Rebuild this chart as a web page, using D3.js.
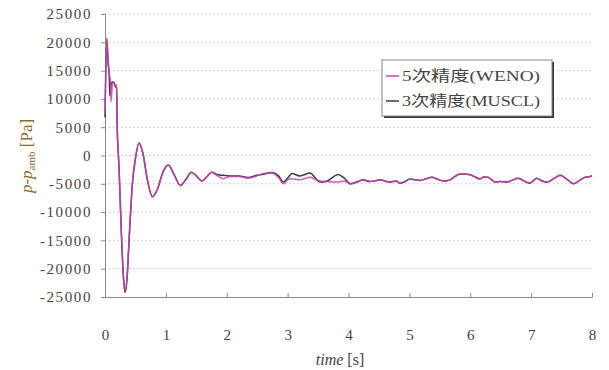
<!DOCTYPE html>
<html><head><meta charset="utf-8">
<script src="https://cdn.jsdelivr.net/npm/d3@7"></script>
<style>body{margin:0;background:#fff}svg{display:block}</style>
</head><body>
<svg id="c" width="609" height="370"></svg>
<script>
const xTicks = [0,1,2,3,4,5,6,7,8];
const yTicks = [-25000,-20000,-15000,-10000,-5000,0,5000,10000,15000,20000,25000];
const seriesNames = ["5次精度(WENO)", "3次精度(MUSCL)"];

const tWeno = [0,0.03,0.05,0.07,0.09,0.1,0.12,0.15,0.17,0.19,0.2,0.23,0.27,0.3,0.33,0.36,0.4,0.45,0.5,0.56,0.62,0.7,0.78,0.86,0.95,1.04,1.14,1.24,1.33,1.42,1.5,1.59,1.67,1.75,1.85,1.94,2.05,2.2,2.35,2.5,2.6,2.74,2.85,2.93,3.0,3.07,3.2,3.37,3.45,3.53,3.65,3.83,3.93,4.03,4.15,4.24,4.35,4.46,4.52,4.6,4.68,4.78,4.85,4.93,5.01,5.1,5.18,5.28,5.37,5.46,5.56,5.67,5.75,5.83,5.92,6.0,6.08,6.16,6.22,6.29,6.35,6.41,6.5,6.6,6.7,6.79,6.9,6.98,7.04,7.09,7.18,7.26,7.37,7.48,7.6,7.7,7.81,7.9,7.97,8.0];
const pWeno = [7500,20800,17000,14500,13000,9500,12500,13000,12000,12500,5000,-2000,-14000,-21000,-24000,-22000,-14000,-5000,-500,2200,500,-4500,-7300,-6000,-3000,-1700,-3500,-5300,-4200,-2950,-3600,-4500,-3800,-2950,-3600,-4100,-3700,-3700,-4000,-3600,-3200,-3100,-3900,-5000,-4300,-4100,-4300,-3850,-4200,-4500,-4600,-4700,-4500,-5000,-4700,-4300,-4600,-4400,-4300,-4500,-4700,-4500,-4900,-4600,-4150,-4300,-4400,-4100,-3850,-4200,-4500,-4300,-3700,-3250,-3300,-3400,-3800,-4150,-3800,-3850,-4300,-4700,-4600,-4700,-4300,-4000,-4600,-4900,-4400,-4000,-4500,-4700,-4100,-3500,-4300,-5000,-4300,-3800,-3700,-3600];

const tMuscl = [0,0.03,0.05,0.07,0.08,0.1,0.12,0.15,0.17,0.19,0.2,0.23,0.27,0.3,0.33,0.36,0.4,0.45,0.5,0.56,0.62,0.7,0.78,0.86,0.95,1.04,1.14,1.24,1.33,1.42,1.5,1.59,1.67,1.75,1.85,1.94,2.05,2.2,2.35,2.5,2.6,2.74,2.85,2.93,3.0,3.07,3.2,3.37,3.45,3.53,3.65,3.83,3.93,4.03,4.15,4.24,4.35,4.46,4.52,4.6,4.68,4.78,4.85,4.93,5.01,5.1,5.18,5.28,5.37,5.46,5.56,5.67,5.75,5.83,5.92,6.0,6.08,6.16,6.22,6.29,6.35,6.41,6.5,6.6,6.7,6.79,6.9,6.98,7.04,7.09,7.18,7.26,7.37,7.48,7.6,7.7,7.81,7.9,7.97,8.0];
const pMuscl = [6700,20500,16500,14000,10500,12500,13000,12800,12200,12000,5500,-2000,-14000,-21000,-24200,-22000,-14000,-5000,-500,2200,500,-4500,-7300,-6000,-3000,-1700,-3500,-5300,-4200,-2950,-3600,-4500,-3800,-2950,-3400,-3500,-3600,-3600,-3900,-3500,-3300,-3000,-3600,-4700,-4000,-3200,-3600,-3100,-3900,-4700,-4500,-3350,-4000,-5000,-4600,-4300,-4600,-4400,-4300,-4500,-4700,-4500,-4900,-4600,-4150,-4300,-4400,-4100,-3850,-4200,-4500,-4300,-3700,-3250,-3300,-3400,-3800,-4150,-3800,-3850,-4300,-4700,-4600,-4700,-4300,-4000,-4600,-4900,-4400,-4000,-4500,-4700,-4100,-3500,-4300,-5000,-4300,-3800,-3700,-3600];

const svg = d3.select("#c");
const x = d3.scaleLinear().domain([0,8]).range([105,592]);
const y = d3.scaleLinear().domain([-25000,25000]).range([297,14]);
const serif = "'Liberation Serif','Times New Roman',serif";

// gridlines
svg.append("g").selectAll("line").data(yTicks.filter(v=>v>-25000)).join("line")
  .attr("x1",x(0)).attr("x2",x(8)).attr("y1",d=>y(d)).attr("y2",d=>y(d))
  .attr("stroke","#c4c4c4").attr("stroke-width",1).attr("stroke-dasharray","1.5,2.5");

// axes
const gy = svg.append("g").attr("transform",`translate(${x(0)},0)`)
  .call(d3.axisLeft(y).tickValues(yTicks).tickSize(4).tickSizeOuter(0).tickPadding(9).tickFormat(d=>String(d)));
const gx = svg.append("g").attr("transform",`translate(0,${y(-25000)})`)
  .call(d3.axisBottom(x).tickValues(xTicks).tickSize(-4).tickSizeOuter(0).tickPadding(32).tickFormat(d=>String(d)));
[gy,gx].forEach(g=>{
  g.select(".domain").attr("stroke","#8a8a8a");
  g.selectAll(".tick line").attr("stroke","#8a8a8a");
  g.selectAll("text").attr("font-family",serif).attr("font-size",15).attr("fill","#444");
});
gy.selectAll("text").attr("letter-spacing","1.6px");

// lines
const line = d3.line().x(d=>x(d[0])).y(d=>y(d[1])).curve(d3.curveMonotoneX);
svg.append("path").datum(d3.zip(tMuscl,pMuscl)).attr("d",line)
  .attr("fill","none").attr("stroke","#3b3560").attr("stroke-width",1.5);
svg.append("path").datum(d3.zip(tWeno,pWeno)).attr("d",line)
  .attr("fill","none").attr("stroke","#cc3fa8").attr("stroke-width",1.5).attr("stroke-opacity",0.85);

// y title
const yt = svg.append("text").attr("transform","translate(32,156) rotate(-90)")
  .attr("text-anchor","middle").attr("font-family",serif).attr("font-size",17).attr("fill","#8a6d2e");
yt.append("tspan").attr("font-style","italic").text("p-p");
yt.append("tspan").attr("font-size",11).attr("dy",3).text("amb");
yt.append("tspan").attr("dy",-3).text(" [Pa]");

// x title
const xt = svg.append("text").attr("x",340).attr("y",365).attr("text-anchor","middle")
  .attr("font-family",serif).attr("font-size",16).attr("fill","#444");
xt.append("tspan").attr("font-style","italic").text("time");
xt.append("tspan").text(" [s]");

// legend
const lg = svg.append("g");
lg.append("rect").attr("x",384).attr("y",62).attr("width",170).attr("height",56).attr("fill","#333");
lg.append("rect").attr("x",382).attr("y",60).attr("width",170).attr("height",56).attr("fill","#fff").attr("stroke","#888").attr("stroke-width",1);
const colors = ["#cc3fa8","#3b3560"];
seriesNames.forEach((n,i)=>{
  const yy = 76 + i*25;
  lg.append("line").attr("x1",386).attr("x2",399).attr("y1",yy).attr("y2",yy).attr("stroke",colors[i]).attr("stroke-width",1.5);
  lg.append("text").attr("x",402).attr("y",yy+5).attr("font-family","'Liberation Serif','Noto Sans CJK JP',serif")
    .attr("font-size",15).attr("fill","#444").attr("textLength",138).attr("lengthAdjust","spacingAndGlyphs").text(n);
});
</script>
</body></html>
